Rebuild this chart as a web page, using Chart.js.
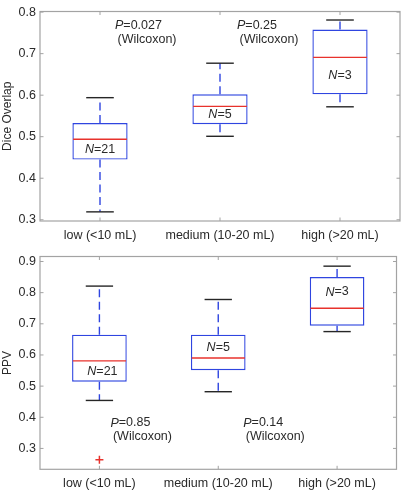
<!DOCTYPE html>
<html>
<head>
<meta charset="utf-8">
<script src="https://cdn.jsdelivr.net/npm/chart.js@4.4.0/dist/chart.umd.min.js"></script>
<style>
  html, body { margin: 0; padding: 0; background: #fff; }
  canvas { position: absolute; left: 0; }
  #dice { top: 0; }
  #ppv { top: 245px; }
</style>
</head>
<body>
<canvas id="dice" width="402" height="245"></canvas>
<canvas id="ppv" width="402" height="245"></canvas>
<script>
// data
const categories = ['low (<10 mL)', 'medium (10-20 mL)', 'high (>20 mL)'];
const groupN = [21, 5, 3];

const diceMin = [0.319, 0.501, 0.572];
const diceQ1 = [0.445, 0.530, 0.602];
const diceMedian = [0.494, 0.573, 0.691];
const diceQ3 = [0.533, 0.602, 0.758];
const diceMax = [0.594, 0.677, 0.781];
const diceTicks = [0.3, 0.4, 0.5, 0.6, 0.7, 0.8];
const diceP = ['0.027', '0.25'];

const ppvMin = [0.454, 0.482, 0.675];
const ppvQ1 = [0.514, 0.551, 0.694];
const ppvMedian = [0.581, 0.590, 0.750];
const ppvQ3 = [0.665, 0.665, 0.850];
const ppvMax = [0.821, 0.778, 0.885];
const ppvOutliers = [0.264, null, null];
const ppvTicks = [0.3, 0.4, 0.5, 0.6, 0.7, 0.8, 0.9];
const ppvP = ['0.85', '0.14'];

const BLUE = '#2f45e0';
const RED = '#e8322c';
const TEXT = '#2a2a2a';
const FRAME = '#a3a3a3';
const FONT = '"Liberation Sans", Arial, sans-serif';
const FS = 12.5;

function line(ctx, x1, y1, x2, y2) {
  ctx.beginPath();
  ctx.moveTo(x1, y1);
  ctx.lineTo(x2, y2);
  ctx.stroke();
}

// italic letter followed by upright rest, e.g. "N" + "=21"
function mixedText(ctx, ital, rest, x, y, align) {
  ctx.font = 'italic ' + FS + 'px ' + FONT;
  const w1 = ctx.measureText(ital).width;
  ctx.font = FS + 'px ' + FONT;
  const w2 = ctx.measureText(rest).width;
  let x0 = align === 'center' ? x - (w1 + w2) / 2 : x;
  ctx.textAlign = 'left';
  ctx.font = 'italic ' + FS + 'px ' + FONT;
  ctx.fillText(ital, x0, y);
  ctx.font = FS + 'px ' + FONT;
  ctx.fillText(rest, x0 + w1, y);
}

const boxParts = {
  id: 'boxParts',
  afterDatasetsDraw(chart, args, opts) {
    const { ctx, scales: { x, y } } = chart;
    const st = opts.stats;
    const meta = chart.getDatasetMeta(0);
    ctx.save();
    st.median.forEach((m, i) => {
      const cx = x.getPixelForValue(i);
      const half = meta.data[i].width / 2;
      const yMax = y.getPixelForValue(st.max[i]);
      const yMin = y.getPixelForValue(st.min[i]);
      ctx.lineWidth = 1.4;
      ctx.strokeStyle = BLUE;
      ctx.setLineDash([8, 4.5]);
      line(ctx, cx, y.getPixelForValue(st.q3[i]), cx, yMax);
      line(ctx, cx, y.getPixelForValue(st.q1[i]), cx, yMin);
      ctx.setLineDash([]);
      ctx.strokeStyle = '#262626';
      line(ctx, cx - half / 2, yMax, cx + half / 2, yMax);
      line(ctx, cx - half / 2, yMin, cx + half / 2, yMin);
      ctx.strokeStyle = RED;
      const ym = y.getPixelForValue(m);
      line(ctx, cx - half + 0.7, ym, cx + half - 0.7, ym);
    });

    ctx.fillStyle = TEXT;
    ctx.textBaseline = 'middle';
    groupN.forEach((n, i) => {
      mixedText(ctx, 'N', '=' + n, x.getPixelForValue(i) + (opts.nShift[i] || 0),
        y.getPixelForValue(opts.nAt[i]), 'center');
    });
    opts.pValues.forEach((p, i) => {
      const px = x.getPixelForValue(i) + opts.pShift[i];
      const py = y.getPixelForValue(opts.pAt);
      mixedText(ctx, 'P', '=' + p, px, py, 'left');
      ctx.font = FS + 'px ' + FONT;
      ctx.fillText('(Wilcoxon)', px + 2.5, py + 13.5);
    });
    ctx.restore();
  },
  afterDraw(chart) {
    const { ctx, chartArea: a, scales: { x, y } } = chart;
    ctx.save();
    ctx.strokeStyle = FRAME;
    ctx.lineWidth = 1.2;
    ctx.strokeRect(a.left, a.top, a.right - a.left, a.bottom - a.top);
    ctx.lineWidth = 1;
    y.ticks.forEach(t => {
      const py = y.getPixelForValue(t.value);
      line(ctx, a.left, py, a.left + 3.5, py);
      line(ctx, a.right, py, a.right - 3.5, py);
    });
    categories.forEach((c, i) => {
      const px = x.getPixelForValue(i);
      line(ctx, px, a.bottom, px, a.bottom - 3.5);
      line(ctx, px, a.top, px, a.top + 3.5);
    });
    ctx.restore();
  }
};

function makeChart(id, o) {
  const datasets = [{
    type: 'bar',
    data: o.q1.map((v, i) => [v, o.q3[i]]),
    backgroundColor: '#ffffff',
    borderColor: BLUE,
    borderWidth: 1.4,
    borderSkipped: false,
    barPercentage: 0.46,
    categoryPercentage: 1
  }];
  if (o.outliers) {
    datasets.push({
      type: 'line',
      data: o.outliers,
      showLine: false,
      pointStyle: 'cross',
      pointRadius: 4,
      pointBorderWidth: 1.5,
      pointBorderColor: RED,
      pointBackgroundColor: RED
    });
  }
  return new Chart(document.getElementById(id), {
    data: { labels: categories, datasets },
    plugins: [boxParts],
    options: {
      responsive: false,
      animation: false,
      devicePixelRatio: 1,
      layout: { padding: { left: 0, right: 2, top: o.padTop, bottom: 0 } },
      plugins: {
        legend: { display: false },
        tooltip: { enabled: false },
        boxParts: {
          stats: { min: o.min, q1: o.q1, median: o.median, q3: o.q3, max: o.max },
          nAt: o.nAt, nShift: o.nShift || [],
          pValues: o.pValues, pAt: o.pAt, pShift: o.pShift
        }
      },
      scales: {
        x: {
          type: 'category',
          offset: true,
          grid: { display: false, drawTicks: false },
          border: { display: false },
          ticks: { color: TEXT, font: { family: FONT, size: FS }, padding: o.xPad, maxRotation: 0 },
          afterFit: s => { s.height = o.xHeight; }
        },
        y: {
          min: o.yMin,
          max: o.yMax,
          grid: { display: false, drawTicks: false },
          border: { display: false },
          afterBuildTicks: s => { s.ticks = o.ticks.map(v => ({ value: v })); },
          afterFit: s => { s.width = 40; },
          ticks: {
            color: TEXT, font: { family: FONT, size: FS }, padding: 4,
            callback: v => v.toFixed(1)
          },
          title: {
            display: true, text: o.yTitle, color: TEXT,
            font: { family: FONT, size: 12 }, padding: { top: 0, bottom: 0 }
          }
        }
      }
    }
  });
}

makeChart('dice', {
  min: diceMin, q1: diceQ1, median: diceMedian, q3: diceQ3, max: diceMax,
  ticks: diceTicks, yMin: 0.297, yMax: 0.8015, yTitle: 'Dice Overlap',
  padTop: 5, xHeight: 24, xPad: 7,
  nAt: [0.470, 0.554, 0.647],
  pValues: diceP, pAt: 0.767, pShift: [15, 17]
});

makeChart('ppv', {
  min: ppvMin, q1: ppvQ1, median: ppvMedian, q3: ppvQ3, max: ppvMax,
  outliers: ppvOutliers,
  ticks: ppvTicks, yMin: 0.233, yMax: 0.916, yTitle: 'PPV',
  padTop: 6.7, xHeight: 20.7, xPad: 7,
  nAt: [0.548, 0.623, 0.802], nShift: [3, 0, 0],
  pValues: ppvP, pAt: 0.3815, pShift: [11, 25]
});
</script>
</body>
</html>
